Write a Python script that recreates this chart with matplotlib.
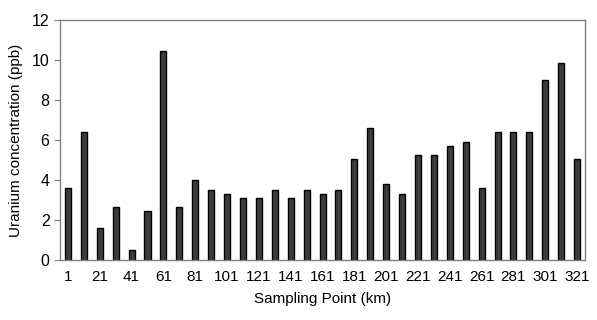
import matplotlib.pyplot as plt

plt.rcParams['font.family'] = ['Liberation Sans', 'DejaVu Sans']

# sampling points every 10 km, labels every 20 km
points = list(range(1, 322, 10))
uranium = [3.6, 6.4, 1.6, 2.65, 0.5, 2.45, 10.45, 2.65, 4.0, 3.5, 3.3,
           3.1, 3.1, 3.5, 3.1, 3.5, 3.3, 3.5, 5.05, 6.6, 3.8, 3.3,
           5.25, 5.25, 5.7, 5.9, 3.6, 6.4, 6.4, 6.4, 9.0, 9.85, 5.05]
tick_labels = list(range(1, 322, 20))

fig = plt.figure(figsize=(5.97, 3.2), dpi=100)
ax = fig.add_axes([0.1005, 0.1875, 0.8795, 0.75])

ax.bar(points, uranium, width=3.8, color="#3c3c3c", edgecolor="black", linewidth=1.0)

ax.set_xlim(-4, 326)
ax.set_ylim(0, 12)
ax.set_yticks(range(0, 13, 2))
ax.set_xticks(tick_labels)
ax.tick_params(axis="x", length=0, labelsize=11, pad=7)
ax.tick_params(axis="y", length=4, color="#808080", labelsize=11.5)

for s in ax.spines.values():
    s.set_color("#808080")
    s.set_linewidth(1.0)

ax.set_xlabel("Sampling Point (km)", fontsize=11, labelpad=6)
ax.set_ylabel("Uranium concentration (ppb)", fontsize=11, labelpad=6)

plt.savefig("out.png", dpi=100)
